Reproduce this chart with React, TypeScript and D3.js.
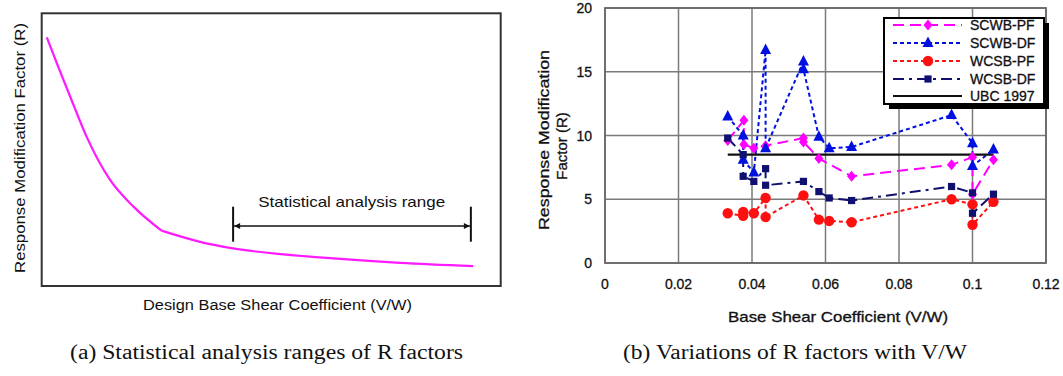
import React from "react";
import * as d3 from "d3";

// ---------- Data: panel (b) ----------
const xTicks = [0, 0.02, 0.04, 0.06, 0.08, 0.1, 0.12];
const xTickLabels = ["0", "0.02", "0.04", "0.06", "0.08", "0.1", "0.12"];
const yTicks = [0, 5, 10, 15, 20];
const yTickLabels = ["0", "5", "10", "15", "20"];

const scwbPfX = [0.0334, 0.0378, 0.0378, 0.0405, 0.0437, 0.054, 0.054, 0.0582, 0.0671, 0.0943, 0.1, 0.1, 0.1057];
const scwbPfY = [9.6, 11.2, 9.3, 9.0, 9.2, 9.8, 9.5, 8.2, 6.8, 7.7, 8.3, 5.4, 8.1];

const scwbDfX = [0.0334, 0.0376, 0.0376, 0.0405, 0.0437, 0.0437, 0.054, 0.054, 0.0582, 0.061, 0.0671, 0.0943, 0.1, 0.1, 0.1057];
const scwbDfY = [11.5, 10.0, 8.1, 7.1, 16.7, 9.0, 15.8, 15.2, 9.9, 9.0, 9.1, 11.6, 9.4, 7.6, 8.9];

const wcsbPfX = [0.0334, 0.0376, 0.0376, 0.0405, 0.0437, 0.0437, 0.054, 0.0582, 0.061, 0.0671, 0.0943, 0.1, 0.1, 0.1057];
const wcsbPfY = [3.9, 3.7, 4.0, 3.9, 5.1, 3.6, 5.3, 3.4, 3.3, 3.2, 5.0, 4.6, 3.0, 4.8];

const wcsbDfX = [0.0334, 0.0376, 0.0376, 0.0405, 0.0437, 0.0437, 0.054, 0.0582, 0.061, 0.0671, 0.0943, 0.1, 0.1, 0.1057];
const wcsbDfY = [9.8, 8.5, 6.8, 6.4, 7.4, 6.1, 6.4, 5.6, 5.1, 4.9, 6.0, 5.5, 3.9, 5.4];

const ubcX = [0.0334, 0.1057];
const ubcY = [8.5, 8.5];

const legendLabels = ["SCWB-PF", "SCWB-DF", "WCSB-PF", "WCSB-DF", "UBC 1997"];

// ---------- Data: panel (a) (conceptual, normalised units) ----------
// steep branch (up to the kink) and flat branch (from the kink)
const steepX = [0.011, 0.036, 0.065, 0.098, 0.149, 0.2, 0.261];
const steepY = [0.912, 0.804, 0.682, 0.547, 0.389, 0.291, 0.203];
const flatX = [0.261, 0.345, 0.417, 0.526, 0.635, 0.781, 0.94];
const flatY = [0.203, 0.162, 0.138, 0.116, 0.101, 0.085, 0.073];
const rangeX = [0.417, 0.935];

const SANS = "'Liberation Sans', Arial, Helvetica, sans-serif";
const SERIF = "'Liberation Serif', 'Times New Roman', serif";

type Series = {
  name: string;
  xs: number[];
  ys: number[];
  color: string;
  dash: string;
  marker: "diamond" | "triangle" | "circle" | "square" | "none";
};

const series: Series[] = [
  { name: legendLabels[0], xs: scwbPfX, ys: scwbPfY, color: "#ff00ff", dash: "11,6", marker: "diamond" },
  { name: legendLabels[1], xs: scwbDfX, ys: scwbDfY, color: "#0010e0", dash: "4,3", marker: "triangle" },
  { name: legendLabels[2], xs: wcsbPfX, ys: wcsbPfY, color: "#ff1010", dash: "4,3", marker: "circle" },
  { name: legendLabels[3], xs: wcsbDfX, ys: wcsbDfY, color: "#101070", dash: "11,5,3,5", marker: "square" },
  { name: legendLabels[4], xs: ubcX, ys: ubcY, color: "#111111", dash: "", marker: "none" },
];

function Marker({ type, x, y, color }: { type: string; x: number; y: number; color: string }) {
  if (type === "circle") return <circle cx={x} cy={y} r={5.2} fill={color} />;
  if (type === "square") return <rect x={x - 3.6} y={y - 3.6} width={7.2} height={7.2} fill={color} />;
  if (type === "diamond")
    return <path d={`M${x},${y - 5.5}L${x + 4.5},${y}L${x},${y + 5.5}L${x - 4.5},${y}Z`} fill={color} />;
  if (type === "triangle")
    return <path d={`M${x},${y - 6.5}L${x + 5.5},${y + 4}L${x - 5.5},${y + 4}Z`} fill={color} />;
  return null;
}

export default function App() {
  // ----- panel (b) scales -----
  const x = d3.scaleLinear().domain([0, 0.12]).range([605, 1046]);
  const y = d3.scaleLinear().domain([0, 20]).range([263, 8]);

  // ----- panel (a) scales -----
  const ax = d3.scaleLinear().domain([0, 1]).range([41.7, 500.7]);
  const ay = d3.scaleLinear().domain([0, 1]).range([286, 13.3]);

  const lineA = d3
    .line<[number, number]>()
    .x((d) => ax(d[0]))
    .y((d) => ay(d[1]))
    .curve(d3.curveMonotoneX);
  const steepPath = lineA(steepX.map((v, i) => [v, steepY[i]] as [number, number])) as string;
  const flatPath = lineA(flatX.map((v, i) => [v, flatY[i]] as [number, number])) as string;

  const bx0 = ax(rangeX[0]);
  const bx1 = ax(rangeX[1]);
  const bracketY = 226;

  const legendRows = [25, 43, 61, 79, 96];

  return (
    <svg
      width={1063}
      height={376}
      viewBox="0 0 1063 376"
      style={{ position: "absolute", left: 0, top: 0, background: "#fff" }}
    >
      <rect x={0} y={0} width={1063} height={376} fill="#fff" />

      {/* ================= Panel (a) ================= */}
      <rect x={ax(0)} y={ay(1)} width={ax(1) - ax(0)} height={ay(0) - ay(1)} fill="none" stroke="#333" strokeWidth={2} />
      <path d={steepPath} fill="none" stroke="#ff1aff" strokeWidth={2.2} strokeLinejoin="round" />
      <path d={flatPath} fill="none" stroke="#ff1aff" strokeWidth={2.2} strokeLinejoin="round" />
      {/* range bracket */}
      <line x1={bx0} x2={bx0} y1={206.7} y2={241.7} stroke="#111" strokeWidth={2} />
      <line x1={bx1} x2={bx1} y1={206.7} y2={241.7} stroke="#111" strokeWidth={2} />
      <line x1={bx0 + 1} x2={bx1 - 1} y1={bracketY} y2={bracketY} stroke="#111" strokeWidth={1.5} />
      <path d={`M${bx0 + 1},${bracketY}l6,-3v6z`} fill="#111" />
      <path d={`M${bx1 - 1},${bracketY}l-6,-3v6z`} fill="#111" />
      <text x={351.7} y={207} textAnchor="middle" fontFamily={SANS} fontSize={15} fill="#111" textLength={187} lengthAdjust="spacingAndGlyphs">
        Statistical analysis range
      </text>
      <text
        transform={`translate(25,148) rotate(-90)`}
        textAnchor="middle"
        fontFamily={SANS}
        fontSize={15.5}
        fill="#111"
        textLength={250}
        lengthAdjust="spacingAndGlyphs"
      >
        Response Modification Factor (R)
      </text>
      <text x={277.5} y={309.5} textAnchor="middle" fontFamily={SANS} fontSize={15.5} fill="#111" textLength={269} lengthAdjust="spacingAndGlyphs">
        Design Base Shear Coefficient (V/W)
      </text>

      {/* ================= Panel (b) ================= */}
      {/* gridlines */}
      {xTicks.map((t) => (
        <line key={`gx${t}`} x1={x(t)} x2={x(t)} y1={y(20)} y2={y(0)} stroke="#7a7a7a" strokeWidth={1.5} />
      ))}
      {yTicks.map((t) => (
        <line key={`gy${t}`} x1={x(0)} x2={x(0.12)} y1={y(t)} y2={y(t)} stroke="#7a7a7a" strokeWidth={1.5} />
      ))}
      <rect x={x(0)} y={y(20)} width={x(0.12) - x(0)} height={y(0) - y(20)} fill="none" stroke="#6a6a6a" strokeWidth={1.8} />

      {/* tick labels */}
      {xTicks.map((t, i) => (
        <text key={`xl${t}`} x={x(t)} y={289} textAnchor="middle" fontFamily={SANS} fontSize={14} fill="#111" stroke="#111" strokeWidth={0.3}>
          {xTickLabels[i]}
        </text>
      ))}
      {yTicks.map((t, i) => (
        <text key={`yl${t}`} x={592} y={y(t) + 5} textAnchor="end" fontFamily={SANS} fontSize={14} fill="#111" stroke="#111" strokeWidth={0.3}>
          {yTickLabels[i]}
        </text>
      ))}

      {/* axis titles */}
      <text x={838} y={322} textAnchor="middle" fontFamily={SANS} fontSize={15} fill="#111" stroke="#111" strokeWidth={0.3} textLength={220} lengthAdjust="spacingAndGlyphs">
        Base Shear Coefficient (V/W)
      </text>
      <text transform="translate(549,140) rotate(-90)" textAnchor="middle" fontFamily={SANS} fontSize={15} fill="#111" stroke="#111" strokeWidth={0.3} textLength={180} lengthAdjust="spacingAndGlyphs">
        Response Modification
      </text>
      <text transform="translate(567,146) rotate(-90)" textAnchor="middle" fontFamily={SANS} fontSize={15} fill="#111" stroke="#111" strokeWidth={0.3}>
        Factor (R)
      </text>

      {/* series lines */}
      {series.map((s) => {
        const pts: [number, number][] = s.xs.map((v, i) => [v, s.ys[i]]);
        const p = d3
          .line<[number, number]>()
          .x((d) => x(d[0]))
          .y((d) => y(d[1]))(pts) as string;
        return (
          <path
            key={`l${s.name}`}
            d={p}
            fill="none"
            stroke={s.color}
            strokeWidth={s.marker === "none" ? 2.2 : 2}
            strokeDasharray={s.dash || undefined}
          />
        );
      })}
      {series.map((s) =>
        s.xs.map((v, i) => <Marker key={`m${s.name}${i}`} type={s.marker} x={x(v)} y={y(s.ys[i])} color={s.color} />)
      )}

      {/* legend */}
      <rect x={889} y={23} width={160} height={86} fill="#000" />
      <rect x={884} y={18} width={160} height={86} fill="#fff" stroke="#000" strokeWidth={2} />
      {series.map((s, i) => (
        <g key={`lg${s.name}`}>
          <line x1={893} x2={962} y1={legendRows[i]} y2={legendRows[i]} stroke={s.color} strokeWidth={2} strokeDasharray={s.dash || undefined} />
          <Marker type={s.marker} x={928} y={legendRows[i]} color={s.color} />
          <text x={970} y={legendRows[i] + 5} fontFamily={SANS} fontSize={14} fill="#111" stroke="#111" strokeWidth={0.3}>
            {s.name}
          </text>
        </g>
      ))}

      {/* captions */}
      <text x={266.5} y={359} textAnchor="middle" fontFamily={SERIF} fontSize={20} fill="#111" textLength={393} lengthAdjust="spacingAndGlyphs">
        (a) Statistical analysis ranges of R factors
      </text>
      <text x={795} y={359} textAnchor="middle" fontFamily={SERIF} fontSize={20} fill="#111" textLength={344} lengthAdjust="spacingAndGlyphs">
        (b) Variations of R factors with V/W
      </text>
    </svg>
  );
}
